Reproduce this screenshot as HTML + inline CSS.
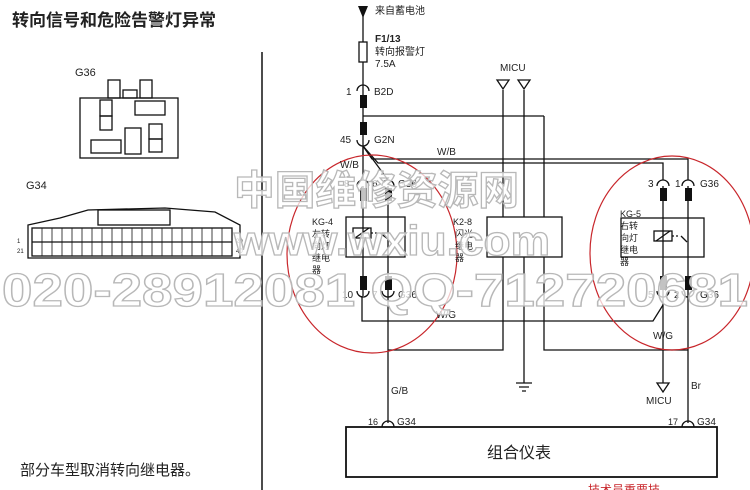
<!DOCTYPE html>
<html><head><meta charset="utf-8"><style>
body{margin:0;background:#fff;width:750px;height:490px;overflow:hidden;position:relative}
svg{position:absolute;left:0;top:0}
text{font-family:"Liberation Sans","Noto Sans CJK SC",sans-serif;fill:#222}
.wm{font-family:"Liberation Sans","Noto Sans CJK SC",sans-serif;fill:#fff;fill-opacity:0.75;stroke:#b8b8b8;stroke-width:1.3;font-weight:bold}
</style></head><body>
<svg width="750" height="490" viewBox="0 0 750 490">
<g fill="none" stroke="#111" stroke-width="1.3">
<line x1="262" y1="52" x2="262" y2="490" stroke-width="1.5"/>
<line x1="363" y1="8" x2="363" y2="155"/>
<rect x="359" y="42" width="8" height="20" fill="#fff"/>
<path d="M357 91 a6 6 0 0 1 12 0"/>
<path d="M357 140 a6 6 0 0 0 12 0"/>
<line x1="363" y1="116" x2="544" y2="116"/>
<line x1="544" y1="116" x2="544" y2="217"/>
<path d="M363 146 L372 159 L688 159 L688 180"/>
<path d="M363 146 L378 163 L663 163 L663 180"/>
<path d="M363 146 L363 180"/>
<path d="M363 146 L388 180"/>
<path d="M357 186 a6 6 0 0 1 12 0"/><path d="M382 186 a6 6 0 0 1 12 0"/>
<line x1="363" y1="186" x2="363" y2="296"/><line x1="388" y1="186" x2="388" y2="423"/>
<rect x="346" y="217" width="59" height="40"/>
<rect x="353" y="228" width="18" height="10"/><line x1="355" y1="238" x2="369" y2="228"/>
<path d="M371 233 h8" stroke-dasharray="2 2"/><path d="M380 233 l8 6"/>
<path d="M357 291 a6 6 0 0 0 12 0"/><path d="M382 291 a6 6 0 0 0 12 0"/>
<path d="M362 296 L362 321 L653 321 L663 305"/>
<rect x="487" y="217" width="75" height="40"/>
<line x1="503" y1="90" x2="503" y2="217"/><line x1="524" y1="90" x2="524" y2="217"/>
<path d="M497 80 h12 l-6 9 z M518 80 h12 l-6 9 z"/>
<path d="M503 257 L503 350 L388 350"/>
<line x1="524" y1="257" x2="524" y2="383"/>
<path d="M516 383 h16 M519 387 h10 M522 391 h4"/>
<path d="M544 257 L544 350 L688 350"/>
<path d="M657 186 a6 6 0 0 1 12 0"/><path d="M682 186 a6 6 0 0 1 12 0"/>
<line x1="663" y1="186" x2="663" y2="383"/><line x1="688" y1="186" x2="688" y2="423"/>
<rect x="621" y="218" width="83" height="39"/>
<rect x="654" y="231" width="18" height="10"/><line x1="656" y1="241" x2="670" y2="231"/>
<path d="M672 236 h8" stroke-dasharray="2 2"/><path d="M681 236 l6 6"/>
<path d="M657 291 a6 6 0 0 0 12 0"/><path d="M682 291 a6 6 0 0 0 12 0"/>
<path d="M657 383 h12 l-6 9 z"/>
<path d="M382 427 a6 6 0 0 1 12 0"/><path d="M682 427 a6 6 0 0 1 12 0"/>
<rect x="346" y="427" width="371" height="50" stroke-width="1.8"/>
<rect x="80" y="98" width="98" height="60"/>
<rect x="108" y="80" width="12" height="18"/><rect x="140" y="80" width="12" height="18"/>
<rect x="123" y="90" width="14" height="8"/>
<rect x="100" y="100" width="12" height="16"/><rect x="100" y="116" width="12" height="14"/>
<rect x="91" y="140" width="30" height="13"/>
<rect x="135" y="101" width="30" height="14"/>
<rect x="149" y="124" width="13" height="15"/><rect x="149" y="139" width="13" height="13"/>
<rect x="125" y="128" width="16" height="26"/>
<path d="M28 258 L28 225 L60 218 L88 210 L165 208 L215 212 L240 225 L240 258 Z"/>
<rect x="98" y="210" width="72" height="15"/>
<rect x="32" y="228" width="200" height="28"/>
<line x1="32" y1="242" x2="232" y2="242"/>
</g>
<g stroke="#111" stroke-width="0.8">
<line x1="42" y1="228" x2="42" y2="256"/><line x1="52" y1="228" x2="52" y2="256"/><line x1="62" y1="228" x2="62" y2="256"/><line x1="72" y1="228" x2="72" y2="256"/><line x1="82" y1="228" x2="82" y2="256"/><line x1="92" y1="228" x2="92" y2="256"/><line x1="102" y1="228" x2="102" y2="256"/><line x1="112" y1="228" x2="112" y2="256"/><line x1="122" y1="228" x2="122" y2="256"/><line x1="132" y1="228" x2="132" y2="256"/><line x1="142" y1="228" x2="142" y2="256"/><line x1="152" y1="228" x2="152" y2="256"/><line x1="162" y1="228" x2="162" y2="256"/><line x1="172" y1="228" x2="172" y2="256"/><line x1="182" y1="228" x2="182" y2="256"/><line x1="192" y1="228" x2="192" y2="256"/><line x1="202" y1="228" x2="202" y2="256"/><line x1="212" y1="228" x2="212" y2="256"/><line x1="222" y1="228" x2="222" y2="256"/>
</g>
<g fill="#111">
<path d="M358 6 h10 l-5 12 z"/>
<rect x="360" y="95" width="7" height="13"/><rect x="360" y="122" width="7" height="13"/>
<rect x="360" y="188" width="7" height="13"/><rect x="385" y="188" width="7" height="13"/>
<rect x="360" y="276" width="7" height="14"/><rect x="385" y="276" width="7" height="14"/>
<rect x="660" y="188" width="7" height="13"/><rect x="685" y="188" width="7" height="13"/>
<rect x="660" y="276" width="7" height="14"/><rect x="685" y="276" width="7" height="14"/>
</g>
<g fill="none" stroke="#c8262b" stroke-width="1.2">
<ellipse cx="372" cy="254" rx="85" ry="99"/>
<ellipse cx="672" cy="253" rx="82" ry="97"/>
</g>
<g font-size="10">
<text x="375" y="14">来自蓄电池</text>
<text x="375" y="42" font-weight="bold">F1/13</text>
<text x="375" y="55">转向报警灯</text>
<text x="375" y="67">7.5A</text>
<text x="346" y="95">1</text><text x="374" y="95">B2D</text>
<text x="340" y="143">45</text><text x="374" y="143">G2N</text>
<text x="437" y="155">W/B</text><text x="340" y="168">W/B</text>
<text x="500" y="71">MICU</text>
<text x="344" y="187">8</text><text x="372" y="187">6</text><text x="398" y="187">G36</text>
<text x="312" y="225" font-size="9">KG-4</text><text x="312" y="237" font-size="9">左转</text><text x="312" y="249" font-size="9">向灯</text><text x="312" y="261" font-size="9">继电</text><text x="312" y="273" font-size="9">器</text>
<text x="453" y="225" font-size="9">K2-8</text><text x="455" y="237" font-size="9">闪光</text><text x="455" y="249" font-size="9">继电</text><text x="455" y="261" font-size="9">器</text>
<text x="620" y="217" font-size="9">KG-5</text><text x="620" y="229" font-size="9">右转</text><text x="620" y="241" font-size="9">向灯</text><text x="620" y="253" font-size="9">继电</text><text x="620" y="265" font-size="9">器</text>
<text x="648" y="187">3</text><text x="675" y="187">1</text><text x="700" y="187">G36</text>
<text x="342" y="298">10</text><text x="372" y="298">7</text><text x="398" y="298">G36</text>
<text x="648" y="298">5</text><text x="674" y="298">2</text><text x="700" y="298">G36</text>
<text x="436" y="318">W/G</text><text x="653" y="339">W/G</text>
<text x="391" y="394">G/B</text><text x="691" y="389">Br</text><text x="646" y="404">MICU</text>
<text x="368" y="425" font-size="9">16</text><text x="397" y="425">G34</text>
<text x="668" y="425" font-size="9">17</text><text x="697" y="425">G34</text>
<text x="75" y="76" font-size="11" font-family="Liberation Serif">G36</text>
<text x="26" y="189" font-size="11" font-family="Liberation Serif">G34</text>
<text x="17" y="243" font-size="6">1</text><text x="17" y="253" font-size="6">21</text>
<text x="236" y="243" font-size="6">20</text><text x="236" y="253" font-size="6">40</text>
</g>
<text x="12" y="26" font-size="17" font-weight="bold">转向信号和危险告警灯异常</text>
<text x="20" y="475" font-size="15">部分车型取消转向继电器。</text>
<text x="487" y="458" font-size="16">组合仪表</text>
<text x="588" y="494" font-size="12" style="fill:#c8262b">技术员重要技</text>
<text class="wm" x="234" y="204" font-size="40" textLength="285" lengthAdjust="spacingAndGlyphs">中国维修资源网</text>
<text class="wm" x="234" y="255" font-size="42" textLength="316" lengthAdjust="spacingAndGlyphs">www.wxiu.com</text>
<text class="wm" x="2" y="306" font-size="46" textLength="746" lengthAdjust="spacingAndGlyphs">020-28912081 QQ-712720681</text>
</svg>
</body></html>
